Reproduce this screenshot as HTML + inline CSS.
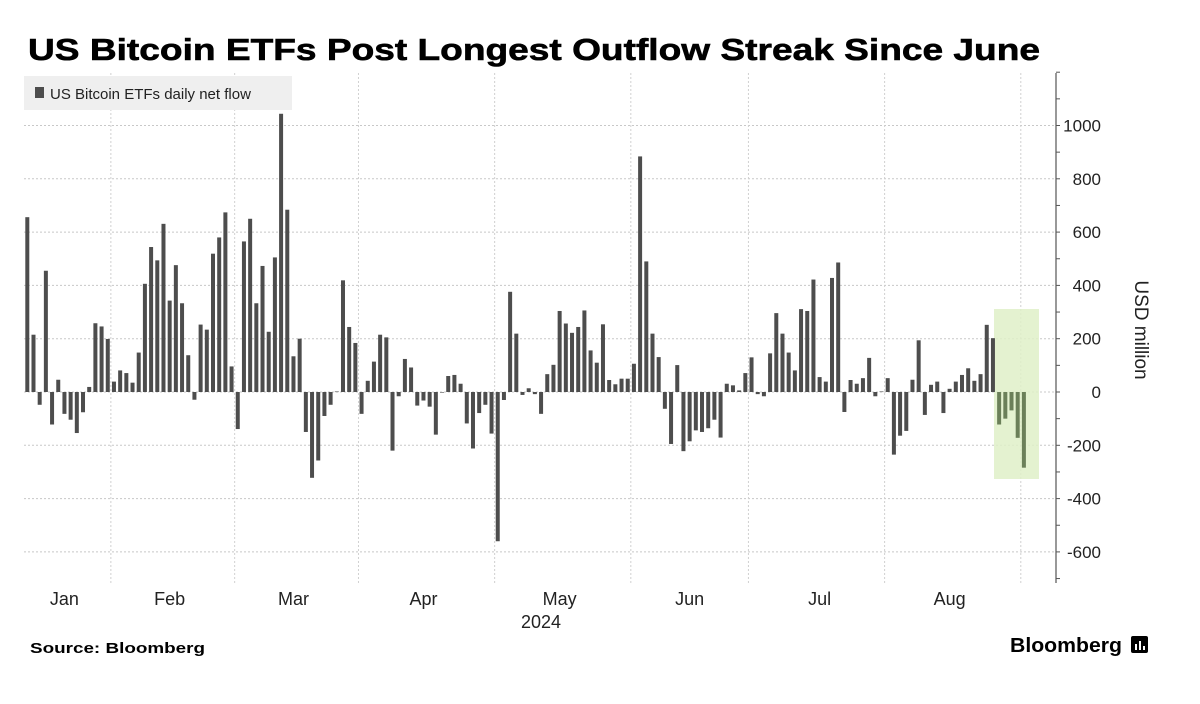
<!DOCTYPE html>
<html><head><meta charset="utf-8"><style>
body{margin:0;background:#fff;width:1200px;height:704px;overflow:hidden;font-family:"Liberation Sans",sans-serif}
</style></head><body>
<svg width="1200" height="704" style="position:absolute;left:0;top:0">
<text x="28" y="60" font-size="31" font-weight="bold" fill="#000" textLength="1012" lengthAdjust="spacingAndGlyphs" stroke="#000" stroke-width="0.6">US Bitcoin ETFs Post Longest Outflow Streak Since June</text>
<g id="grid"></g>
<rect x="994" y="309" width="45" height="170" fill="#dff0c8" opacity="0.85"/>
<g id="bars"></g>
<g id="axis"></g>
<rect x="24" y="76" width="268" height="34" fill="#efefef"/>
<rect x="35" y="87" width="9" height="11" fill="#4d4d4d"/>
<text x="50" y="99" font-size="15" fill="#222">US Bitcoin ETFs daily net flow</text>
<text x="1135" y="330" font-size="19" fill="#222" transform="rotate(90 1135 330)" text-anchor="middle">USD million</text>
<text x="541" y="628" font-size="18" fill="#222" text-anchor="middle">2024</text>
<text x="30" y="653" font-size="15" font-weight="bold" fill="#000" textLength="175" lengthAdjust="spacingAndGlyphs">Source: Bloomberg</text>
<text x="1010" y="652" font-size="20" font-weight="bold" fill="#000" textLength="112" lengthAdjust="spacingAndGlyphs">Bloomberg</text>
<rect x="1131" y="636" width="17" height="17" rx="2" fill="#000"/>
<rect x="1135" y="644" width="2" height="6" fill="#fff"/><rect x="1139" y="641" width="2" height="9" fill="#fff"/><rect x="1143" y="646" width="2" height="4" fill="#fff"/>
</svg>
<script>
const values=[656,215,-48,455,-122,46,-82,-104,-154,-76,19,258,246,199,39,81,71,35,148,406,544,494,631,343,476,333,138,-29,253,234,519,580,674,96,-139,565,650,333,473,226,505,1044,684,134,200,-150,-322,-257,-90,-48,2,419,244,
184,-82,42,114,215,205,-220,-16,124,92,-51,-32,-55,-160,0,60,64,31,-118,-212,-79,-48,-156,-560,-30,376,219,-11,14,-8,-82,67,102,304,257,222,244,306,156,110,254,45,29,50,50,106,884,490,219,131,-63,-195,101,-222,
-185,-144,-150,-136,-104,-171,31,25,6,71,130,-8,-16,145,296,219,148,81,311,304,422,56,39,428,486,-75,45,31,52,128,-16,2,52,-235,-164,-146,46,194,-86,27,39,-79,12,39,64,89,42,67,252,202,-122,-100,-69,-172,-284];
const highlightCount=5;
const yTicks=[1000,800,600,400,200,0,-200,-400,-600];
const months=["Jan","Feb","Mar","Apr","May","Jun","Jul","Aug"];
const monthLabelIdx=[6,23,43,64,86,107,128,149];
const monthStartIdx=[13.5,33.5,53.5,75.5,97.5,116.5,138.5,160.5];
const NS="http://www.w3.org/2000/svg";
const x=i=>27.3+i*6.19;
const y=v=>392-v*0.2665;
function mk(tag,attrs,parent){const e=document.createElementNS(NS,tag);for(const k in attrs)e.setAttribute(k,attrs[k]);parent.appendChild(e);return e;}
const grid=document.getElementById('grid'),bars=document.getElementById('bars'),axis=document.getElementById('axis');
yTicks.forEach(v=>{
 const l=mk('line',{x1:24,x2:1056,y1:y(v),y2:y(v),stroke:'#c8c8c8','stroke-dasharray':'2,2'},grid);
 
 
 const t=mk('text',{x:1101,y:y(v)+6,'font-size':17,fill:'#222','text-anchor':'end'},axis);
 t.textContent=v;
 
 
});
for(let v=-700;v<=1200;v+=100){const k=mk('line',{x1:1056,x2:1060,y1:y(v),y2:y(v),stroke:'#555'},axis);
 
 }
monthStartIdx.forEach(i=>{const l=mk('line',{x1:x(i),x2:x(i),y1:73,y2:583,stroke:'#d0d0d0','stroke-dasharray':'2,2'},grid);
 
 });
months.forEach((m,j)=>{const t=mk('text',{x:x(monthLabelIdx[j]),y:605,'font-size':18,fill:'#222','text-anchor':'middle'},axis);
 t.textContent=m;
 
 });
const ax=mk('line',{x1:1056,x2:1056,y1:73,y2:583,stroke:'#555','stroke-width':1.2},axis);


values.forEach((v,i)=>{
 const hl=i>=values.length-highlightCount;
 const r=mk('rect',{x:x(i)-2,y:Math.min(y(v),y(0)),width:4,height:Math.max(Math.abs(y(v)-y(0)),0.6),fill:hl?'#6b8059':'#4d4d4d'},bars);
 
 
});
</script>
</body></html>
